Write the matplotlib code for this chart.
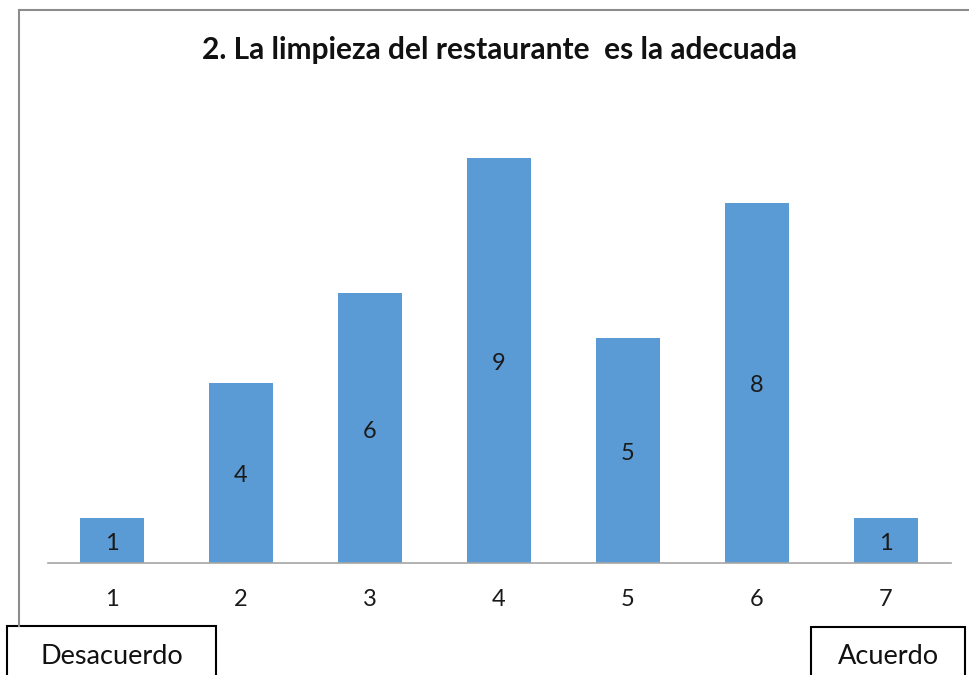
import matplotlib
matplotlib.use("Agg")
import matplotlib.pyplot as plt
from matplotlib.lines import Line2D
from matplotlib.patches import Rectangle

categories = ["1", "2", "3", "4", "5", "6", "7"]
counts = [1, 4, 6, 9, 5, 8, 1]
title = "2. La limpieza del restaurante  es la adecuada"
left_label = "Desacuerdo"
right_label = "Acuerdo"

W, H = 969, 675
plt.rcParams["font.family"] = ["Lato", "DejaVu Sans"]

fig = plt.figure(figsize=(W / 100, H / 100), dpi=100)
fig.patch.set_facecolor("white")


def fx(px):
    return px / W


def fy(py):
    return 1 - py / H


ax = fig.add_axes([fx(47.5), fy(563), fx(950.5) - fx(47.5), fy(113) - fy(563)])
x = list(range(1, len(categories) + 1))
bars = ax.bar(x, counts, width=0.5, color="#5B9BD5", zorder=2)
for xi, v in zip(x, counts):
    ax.annotate(str(v), (xi, v / 2), xytext=(0, -3), textcoords="offset pixels",
                ha="center", va="center", fontsize=17, color="#1a1a1a")

ax.set_xlim(0.5, len(categories) + 0.5)
ax.set_ylim(0, 10)
ax.set_xticks(x)
ax.set_xticklabels(categories, fontsize=17, color="#1a1a1a")
ax.tick_params(axis="x", length=0, pad=19)
ax.set_yticks([])
for s in ("left", "right", "top"):
    ax.spines[s].set_visible(False)
ax.spines["bottom"].set_color("#a6a6a6")
ax.spines["bottom"].set_linewidth(1.2)

fig.text(fx(499), fy(50), title, ha="center", va="center", fontsize=21.5,
         fontweight="bold", color="#111111")

# chart frame (top and left edges)
frame_color = "#8c8c8c"
fig.add_artist(Line2D([fx(19), fx(W + 5)], [fy(10), fy(10)], color=frame_color, lw=1.5))
fig.add_artist(Line2D([fx(19), fx(19)], [fy(10), fy(626)], color=frame_color, lw=1.5))

# scale end boxes
fig.add_artist(Rectangle((fx(7), fy(H + 10)), fx(216) - fx(7), fy(626) - fy(H + 10),
                         fill=False, edgecolor="black", lw=1.5))
fig.add_artist(Rectangle((fx(811), fy(H + 10)), fx(965) - fx(811), fy(627) - fy(H + 10),
                         fill=False, edgecolor="black", lw=1.5))
fig.text(fx(112), fy(657), left_label, ha="center", va="center", fontsize=19.5, color="#111111")
fig.text(fx(888), fy(657), right_label, ha="center", va="center", fontsize=19.5, color="#111111")

fig.savefig("out.png", dpi=100, facecolor="white")
